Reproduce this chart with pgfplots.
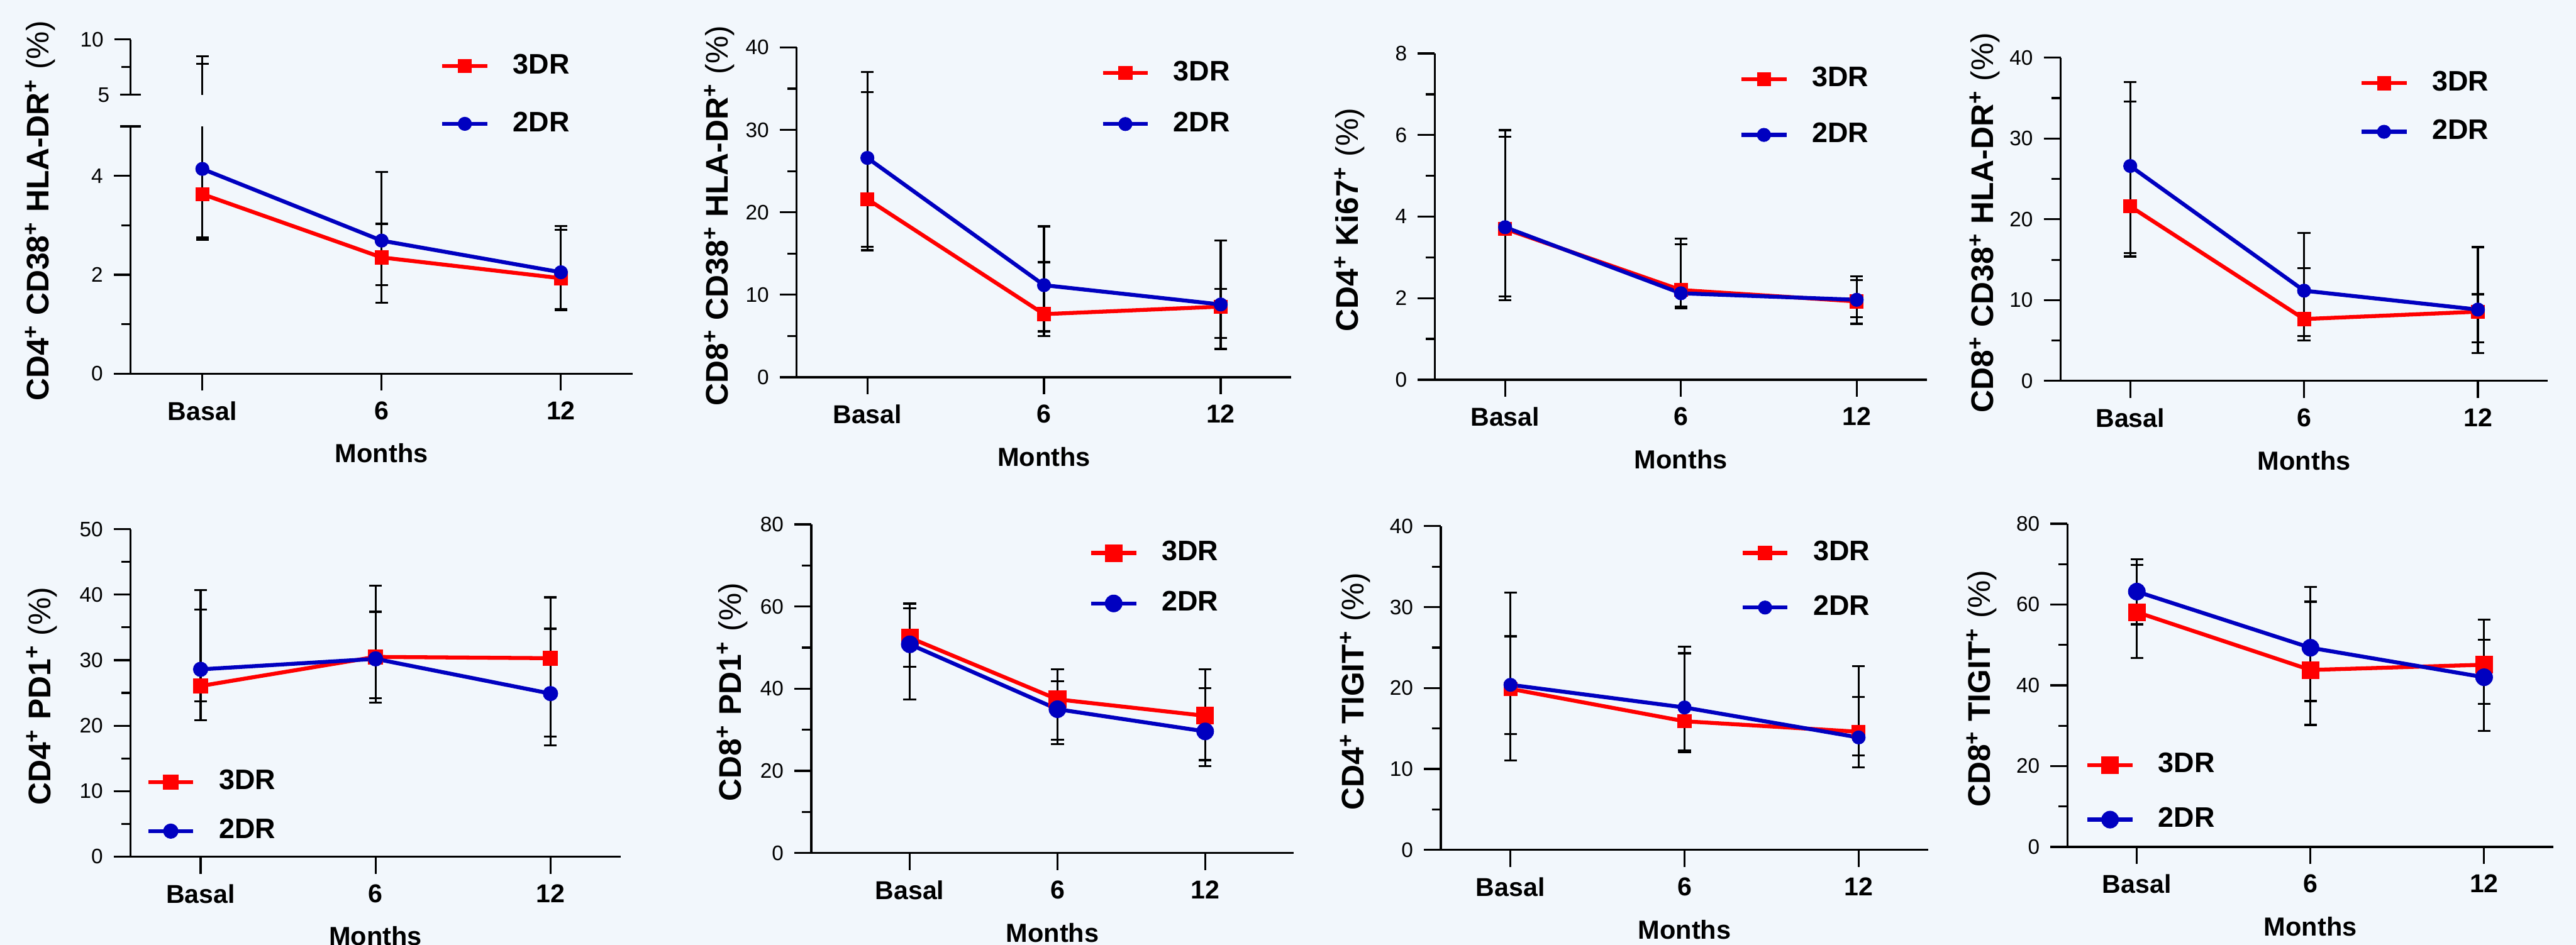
\documentclass[border=0pt]{standalone}
\usepackage{fontspec}
\setmainfont{Liberation Sans}
\usepackage{pgfplots}
\usepackage{pgfplotstable}
\pgfplotsset{compat=1.18}
\definecolor{bg}{RGB}{242,247,252}
\definecolor{myred}{RGB}{255,0,0}
\definecolor{myblue}{RGB}{0,0,192}
\pgfdeclareplotmark{nothing}{}

% columns: x, 3DR mean, plus, minus, 2DR mean, plus, minus
\pgfplotstableread{
x y3 p3 m3 y2 p2 m2
0 3.63 4.17 0.88 4.14 4.32 1.43
1 2.35 0.68 0.92 2.69 1.39 0.90
2 1.93 0.98 0.63 2.05 0.93 0.77
}\tA
\pgfplotstableread{
x y3 p3 m3 y2 p2 m2
0 21.6 13.0 5.8 26.6 10.4 11.2
1 7.66 6.3 2.64 11.17 7.13 5.6
2 8.57 2.16 5.13 8.83 7.73 4.03
}\tB
\pgfplotstableread{
x y3 p3 m3 y2 p2 m2
0 3.70 2.26 1.66 3.74 2.38 1.79
1 2.20 1.12 0.41 2.12 1.34 0.37
2 1.92 0.61 0.55 1.96 0.48 0.43
}\tC
\pgfplotstableread{
x y3 p3 m3 y2 p2 m2
0 26.06 11.64 5.26 28.6 12.1 4.9
1 30.5 10.9 6.3 30.2 7.2 6.7
2 30.3 9.3 12.0 24.9 9.9 7.9
}\tE
\pgfplotstableread{
x y3 p3 m3 y2 p2 m2
0 52.4 8.3 7.1 50.8 8.8 13.4
1 37.4 7.3 9.8 35.0 6.8 8.5
2 33.4 11.35 10.8 29.6 10.5 8.4
}\tF
\pgfplotstableread{
x y3 p3 m3 y2 p2 m2
0 19.9 6.5 5.6 20.4 11.4 9.35
1 15.9 8.4 3.85 17.6 7.5 5.3
2 14.6 8.1 4.4 13.9 5.0 2.2
}\tG
\pgfplotstableread{
x y3 p3 m3 y2 p2 m2
0 58.1 11.7 11.3 63.2 8.0 8.1
1 43.8 16.9 13.6 49.3 15.0 13.2
2 45.1 11.1 9.7 42.0 9.3 13.3
}\tH

\pgfplotsset{
  panel/.style={
    scale only axis, anchor=south west,
    axis x line*=bottom, axis y line*=left,
    axis line style={-, line width=0.66pt, black},
    xmin=-0.4, xmax=2.4, ymin=0,
    xtick={0,1,2}, xticklabels={Basal,6,12},
    minor y tick num=1,
    tick align=outside,
    major tick length=5.6pt, minor tick length=3pt,
    every tick/.style={line width=0.66pt, black},
    xticklabel style={font=\bfseries\fontsize{8.5}{10}\selectfont},
    yticklabel style={font=\fontsize{6.9}{8}\selectfont},
    /pgf/number format/assume math mode=true,
    xlabel={Months},
    xlabel style={at={([yshift=-26.2pt]axis description cs:0.5,0)}, anchor=center, font=\bfseries\fontsize{8.6}{10}\selectfont},
    ylabel style={anchor=center, font=\bfseries\fontsize{10.3}{12}\selectfont},
    legend style={draw=none, fill=none, inner sep=0pt, outer sep=0pt,
      font=\bfseries\fontsize{9.3}{11}\selectfont, anchor=west,
      cells={anchor=west}, /tikz/column sep=5.8pt},
    legend image code/.code={\draw[mark repeat=2,mark phase=2,##1] plot coordinates {(0pt,0pt) (7.4pt,0pt) (14.8pt,0pt)};},
  },
  s3/.style={color=myred, line width=1.3pt, mark=square*, mark size=#1, mark options={solid, fill=myred, draw=myred, line width=0.2pt}},
  s2/.style={color=myblue, line width=1.3pt, mark=*, mark size=#1, mark options={solid, fill=myblue, draw=myblue, line width=0.2pt}},
  eb/.style={draw=none, mark=nothing, forget plot,
    error bars/.cd, y dir=both, y explicit,
    error bar style={draw=black, line width=0.66pt, solid},
    error mark=-,
    error mark options={rotate=90, draw=black, line width=0.66pt, mark size=2.1pt}},
}

\newcommand{\series}[2]{%
  \addplot[s3=#2] table[x=x,y=y3]{#1}; \addlegendentry{3DR}
  \addplot[s2=#2] table[x=x,y=y2]{#1}; \addlegendentry{2DR}
  \addplot[eb] table[x=x,y=y3,y error plus=p3,y error minus=m3]{#1};
  \addplot[eb] table[x=x,y=y2,y error plus=p2,y error minus=m2]{#1};
}

\begin{document}
\begin{tikzpicture}
\path[use as bounding box] (0,0) rectangle (847.8pt,-311pt);
\fill[bg] (0,0) rectangle (847.8pt,-311pt);
\clip (0,0) rectangle (847.8pt,-311pt);

% Panel 1 lower
\begin{axis}[panel, at={(43pt,-123pt)}, width=165.2pt, height=81.4pt,
  ymax=5, ytick={0,2,4}, minor ytick={1,3},
  ylabel={CD4\textsuperscript{+} CD38\textsuperscript{+} HLA-DR\textsuperscript{+} \textmd{(\%)}},
  ylabel style={at={([xshift=-29.8pt]axis description cs:0,0.658)}},
  legend style={at={(axis description cs:0.617,1.127)}, /tikz/row sep=7pt},
  after end axis/.code={\draw[line width=0.66pt] ([xshift=-3.4pt]rel axis cs:0,1) -- ([xshift=3.4pt]rel axis cs:0,1);}]
\series{\tA}{2.2pt}
\end{axis}
% Panel 1 upper
\begin{axis}[scale only axis, anchor=south west, at={(43pt,-31.2pt)}, width=165.2pt, height=18.2pt,
  xmin=-0.4, xmax=2.4, ymin=5, ymax=10,
  axis x line=none, axis y line*=left,
  axis line style={-, line width=0.66pt, black},
  ytick={10}, minor ytick={7.5}, extra y ticks={5},
  extra y tick style={major tick length=3.4pt},
  tick align=outside, major tick length=5.4pt, minor tick length=3pt,
  every tick/.style={line width=0.66pt, black},
  yticklabel style={font=\fontsize{6.9}{8}\selectfont},
  /pgf/number format/assume math mode=true,
  after end axis/.code={\draw[line width=0.66pt] ([xshift=-3.4pt]rel axis cs:0,0) -- ([xshift=3.4pt]rel axis cs:0,0);}]
\addplot[s3=2.2pt] table[x=x,y=y3]{\tA};
\addplot[s2=2.2pt] table[x=x,y=y2]{\tA};
\addplot[eb] table[x=x,y=y3,y error plus=p3,y error minus=m3]{\tA};
\addplot[eb] table[x=x,y=y2,y error plus=p2,y error minus=m2]{\tA};
\end{axis}

% Panel 2
\begin{axis}[panel, at={(262.2pt,-124.2pt)}, width=162.8pt, height=108.6pt,
  ymax=40, ytick={0,10,...,40},
  ylabel={CD8\textsuperscript{+} CD38\textsuperscript{+} HLA-DR\textsuperscript{+} \textmd{(\%)}},
  ylabel style={at={([xshift=-25.4pt]axis description cs:0,0.49)}},
  legend style={at={(axis description cs:0.615,0.845)}, /tikz/row sep=4.8pt}]
\series{\tB}{2.2pt}
\end{axis}

% Panel 3
\begin{axis}[panel, at={(472.2pt,-125pt)}, width=162pt, height=107.4pt,
  ymax=8, ytick={0,2,...,8},
  ylabel={CD4\textsuperscript{+} Ki67\textsuperscript{+} \textmd{(\%)}},
  ylabel style={at={([xshift=-28pt]axis description cs:0,0.49)}},
  legend style={at={(axis description cs:0.619,0.836)}, /tikz/row sep=6.4pt}]
\series{\tC}{2.2pt}
\end{axis}

% Panel 4
\begin{axis}[panel, at={(678.2pt,-125.4pt)}, width=160.2pt, height=106.4pt,
  ymax=40, ytick={0,10,...,40},
  ylabel={CD8\textsuperscript{+} CD38\textsuperscript{+} HLA-DR\textsuperscript{+} \textmd{(\%)}},
  ylabel style={at={([xshift=-25pt]axis description cs:0,0.49)}},
  legend style={at={(axis description cs:0.614,0.846)}, /tikz/row sep=4pt}]
\series{\tB}{2.2pt}
\end{axis}

% Panel 5
\begin{axis}[panel, at={(43pt,-282pt)}, width=161.2pt, height=107.8pt,
  ymax=50, ytick={0,10,...,50},
  ylabel={CD4\textsuperscript{+} PD1\textsuperscript{+} \textmd{(\%)}},
  ylabel style={at={([xshift=-29.2pt]axis description cs:0,0.49)}},
  legend style={at={(axis description cs:0.032,0.153)}, /tikz/row sep=4.2pt}]
\series{\tE}{2.4pt}
\end{axis}

% Panel 6
\begin{axis}[panel, at={(267pt,-280.8pt)}, width=158.8pt, height=108.2pt,
  xmin=-0.667, xmax=2.6,
  ymax=80, ytick={0,20,...,80},
  ylabel={CD8\textsuperscript{+} PD1\textsuperscript{+} \textmd{(\%)}},
  ylabel style={at={([xshift=-26pt]axis description cs:0,0.49)}},
  legend style={at={(axis description cs:0.576,0.836)}, /tikz/row sep=4.6pt}]
\series{\tF}{2.8pt}
\end{axis}

% Panel 7
\begin{axis}[panel, at={(474.2pt,-279.8pt)}, width=160.4pt, height=106.6pt,
  ymax=40, ytick={0,10,...,40},
  ylabel={CD4\textsuperscript{+} TIGIT\textsuperscript{+} \textmd{(\%)}},
  ylabel style={at={([xshift=-28.2pt]axis description cs:0,0.49)}},
  legend style={at={(axis description cs:0.615,0.833)}, /tikz/row sep=6pt}]
\series{\tG}{2.2pt}
\end{axis}

% Panel 8
\begin{axis}[panel, at={(680.4pt,-278.8pt)}, width=160pt, height=106.4pt,
  ymax=80, ytick={0,20,...,80},
  ylabel={CD8\textsuperscript{+} TIGIT\textsuperscript{+} \textmd{(\%)}},
  ylabel style={at={([xshift=-28.2pt]axis description cs:0,0.49)}},
  legend style={at={(axis description cs:0.0375,0.169)}, /tikz/row sep=6pt}]
\series{\tH}{2.8pt}
\end{axis}
\end{tikzpicture}
\end{document}
